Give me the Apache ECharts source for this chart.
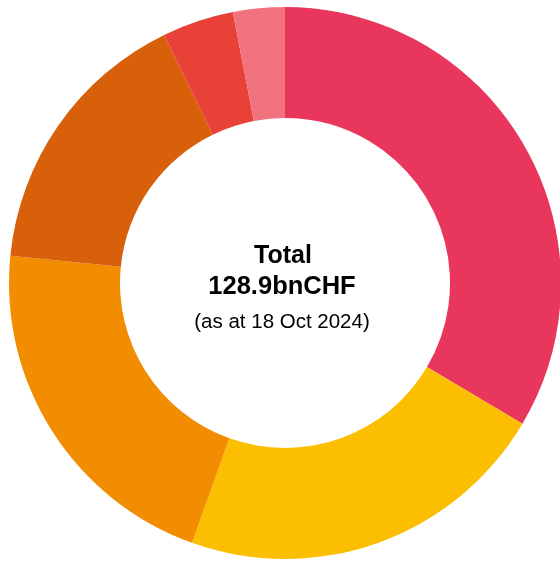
<!DOCTYPE html>
<html>
<head>
<meta charset="utf-8">
<script src="https://cdn.jsdelivr.net/npm/echarts@6/dist/echarts.min.js"></script>
<style>
html,body{margin:0;padding:0;background:#fff;}
#chart{width:560px;height:561px;}
</style>
</head>
<body>
<div id="chart"></div>
<script>
// Segments, clockwise from 12 o'clock (values in bn CHF)
const categories = ['Segment A', 'Segment B', 'Segment C', 'Segment D', 'Segment E', 'Segment F'];
const values = [43.2, 28.3, 27.2, 20.9, 5.4, 3.9];
const colors = ['#E8365D', '#FBBE00', '#F28C00', '#D9600A', '#E84138', '#F0737F'];
const centerLines = ['Total', '128.9bnCHF', '(as at 18 Oct 2024)'];

const chart = echarts.init(document.getElementById('chart'), null, {renderer: 'canvas'});
const fontFamily = '"Liberation Sans", Arial, Helvetica, sans-serif';
chart.setOption({
  animation: false,
  backgroundColor: '#ffffff',
  series: [{
    type: 'pie',
    center: [285, 283],
    radius: [165, 276],
    startAngle: 90,
    clockwise: true,
    label: {show: false},
    labelLine: {show: false},
    emphasis: {disabled: true},
    itemStyle: {borderWidth: 0},
    data: categories.map((c, i) => ({name: c, value: values[i], itemStyle: {color: colors[i]}}))
  }],
  graphic: [
    {type: 'text', x: 283, y: 256, style: {text: centerLines[0], font: 'bold 25px ' + fontFamily, fill: '#000', align: 'center', verticalAlign: 'middle'}},
    {type: 'text', x: 282, y: 287, style: {text: centerLines[1], font: 'bold 25.5px ' + fontFamily, fill: '#000', align: 'center', verticalAlign: 'middle'}},
    {type: 'text', x: 282, y: 322, style: {text: centerLines[2], font: '20.5px ' + fontFamily, fill: '#000', align: 'center', verticalAlign: 'middle'}}
  ]
});
</script>
</body>
</html>
